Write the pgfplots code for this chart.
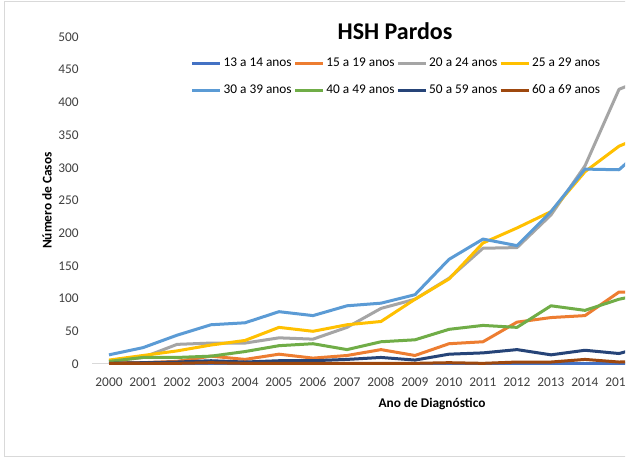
\documentclass[border=0pt]{standalone}
\usepackage{pgfplots}
\pgfplotsset{compat=1.18}
\usepackage{pgfplotstable}
\usepackage{fontspec}
\setmainfont{Carlito}
\definecolor{cA}{HTML}{4472C4}
\definecolor{cB}{HTML}{ED7D31}
\definecolor{cC}{HTML}{A5A5A5}
\definecolor{cD}{HTML}{FFC000}
\definecolor{cE}{HTML}{5B9BD5}
\definecolor{cF}{HTML}{70AD47}
\definecolor{cG}{HTML}{264478}
\definecolor{cH}{HTML}{9E480E}
\definecolor{frmgray}{HTML}{D9D9D9}
\definecolor{tickgray}{HTML}{404040}
\pgfplotstableread{
year a b c d e f g h
2000 0 2 4 6 14 4 1 1
2001 0 2 10 13 25 10 2 1
2002 0 4 30 20 44 10 3 1
2003 0 12 32 29 60 12 5 2
2004 0 7 32 36 63 19 3 1
2005 0 15 40 56 80 28 5 1
2006 0 9 38 50 74 31 5 1
2007 0 13 56 60 89 22 7 1
2008 0 22 85 65 93 34 10 1
2009 0 13 99 99 106 37 6 1
2010 0 31 131 130 160 53 15 2
2011 0 34 177 185 191 59 17 1
2012 0 64 178 208 181 56 22 3
2013 0 71 228 233 233 89 14 3
2014 0 74 303 294 298 82 21 7
2015 0 110 420 333 297 99 16 3
2016 0 110 441 355 343 110 30 5
}\data
\begin{document}
\begin{tikzpicture}
\path[fill=white] (0pt,0pt) rectangle (475.5pt,344.25pt);
\begin{scope}[overlay]
\clip (0pt,0pt) rectangle (468.75pt,344.25pt);
\draw[frmgray, line width=0.75pt] (3pt,1.5pt) rectangle (480pt,342.75pt);
\begin{axis}[
  at={(69pt,71.25pt)}, anchor=south west,
  scale only axis, width=510pt, height=245.25pt,
  xmin=1999.5, xmax=2019.5, ymin=0, ymax=500,
  xtick={2000,...,2019}, ytick={0,50,...,500},
  major tick length=0pt,
  axis x line*=bottom, axis y line*=left,
  x axis line style={draw=frmgray, line width=0.75pt},
  y axis line style={draw=none},
  clip=false,
  /pgf/number format/1000 sep={},
  /pgf/number format/assume math mode=true,
  ticklabel style={font=\fontsize{10}{12}\selectfont, text=tickgray},
  xticklabel style={anchor=center, inner sep=0pt, yshift=-13.5pt},
  yticklabel style={anchor=east, inner sep=0pt, xshift=-9.75pt},
  title={HSH Pardos},
  title style={at={(0.4456,0.994)}, anchor=center, font=\fontsize{18}{22}\bfseries\selectfont},
  xlabel={Ano de Diagnóstico},
  xlabel style={at={(axis description cs:0.5,-0.1223)}, anchor=center, font=\fontsize{10}{12}\bfseries\selectfont},
  ylabel={Número de Casos},
  ylabel style={at={(axis description cs:-0.0662,0.5)}, anchor=center, font=\fontsize{10}{12}\bfseries\selectfont},
  legend columns=4,
  legend style={draw=none, fill=none, at={(0.4476,0.8790)}, anchor=center,
    font=\fontsize{10}{12}\selectfont, column sep=0pt, row sep=11.25pt,
    nodes={inner xsep=1.4pt, inner ysep=0pt, text height=7pt, text depth=2pt}},
  legend image code/.code={\draw[#1, line width=2.25pt] (0pt,0pt) -- (21pt,0pt);},
  every axis plot/.append style={line width=2.25pt, line join=round},
]
\addplot[cA, mark=none] table[x=year, y=a] {\data};
\addlegendentry{13 a 14 anos}
\addplot[cB, mark=none] table[x=year, y=b] {\data};
\addlegendentry{15 a 19 anos}
\addplot[cC, mark=none] table[x=year, y=c] {\data};
\addlegendentry{20 a 24 anos}
\addplot[cD, mark=none] table[x=year, y=d] {\data};
\addlegendentry{25 a 29 anos}
\addplot[cE, mark=none] table[x=year, y=e] {\data};
\addlegendentry{30 a 39 anos}
\addplot[cF, mark=none] table[x=year, y=f] {\data};
\addlegendentry{40 a 49 anos}
\addplot[cG, mark=none] table[x=year, y=g] {\data};
\addlegendentry{50 a 59 anos}
\addplot[cH, mark=none] table[x=year, y=h] {\data};
\addlegendentry{60 a 69 anos}
\end{axis}
\end{scope}
\end{tikzpicture}
\end{document}
